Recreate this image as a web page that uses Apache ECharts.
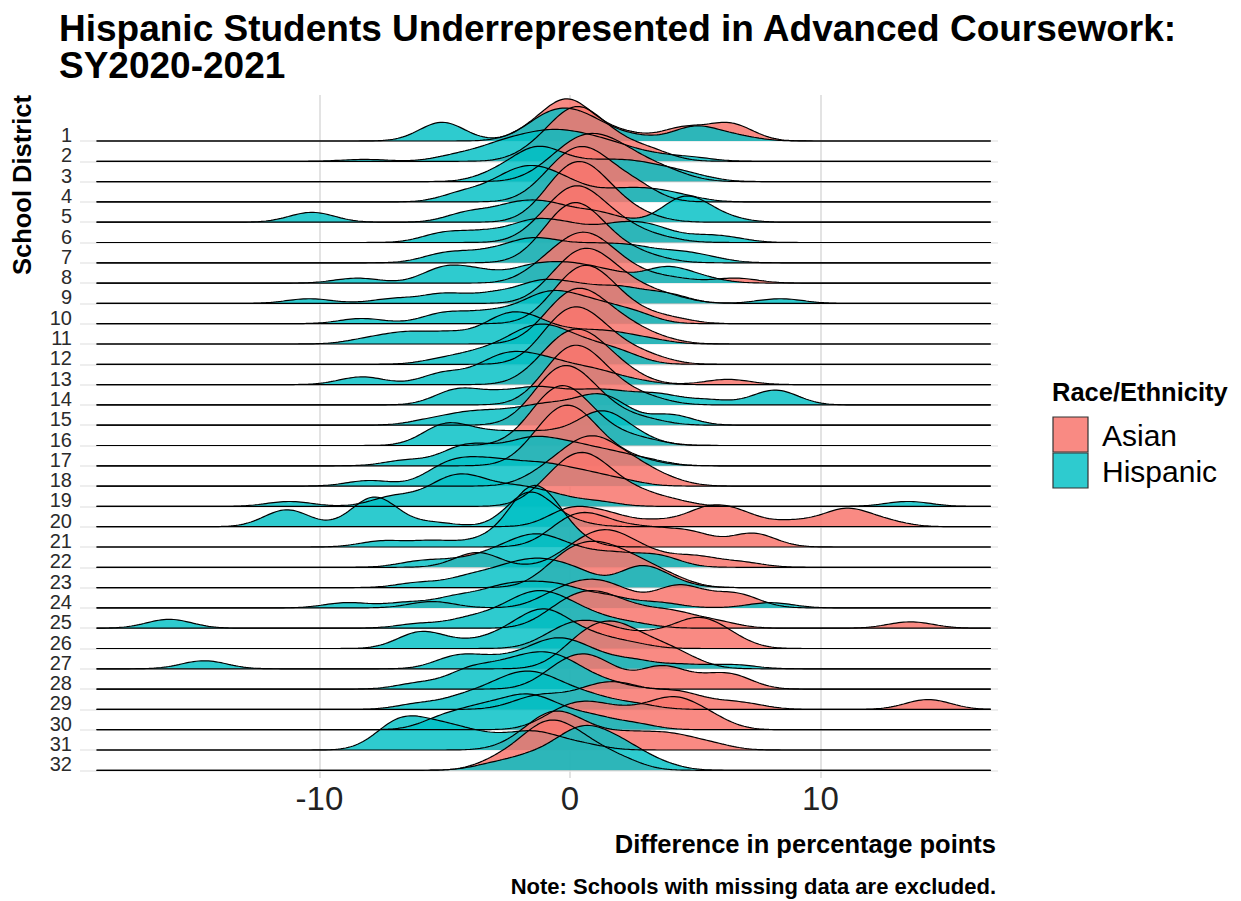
<!DOCTYPE html>
<html>
<head>
<meta charset="utf-8">
<script src="https://cdn.jsdelivr.net/npm/echarts@6/dist/echarts.min.js"></script>
<style>
  html, body { margin: 0; background: #fff; }
  #chart { width: 1241px; height: 901px; }
</style>
</head>
<body>
<div id="chart"></div>
<script>
const districts = ['1', '2', '3', '4', '5', '6', '7', '8', '9', '10', '11', '12', '13', '14', '15', '16',
  '17', '18', '19', '20', '21', '22', '23', '24', '25', '26', '27', '28', '29', '30', '31', '32'];
const groups = ['Asian', 'Hispanic'];
const xTicks = [-10, 0, 10];

// school-level differences: [difference, number of schools]
const asianSchools = [
  [[-0.4, 5], [0.3, 5], [2, 2], [4.5, 3], [6.4, 4], [-1.5, 2]],
  [[-1.3, 2], [-0.2, 5], [0.6, 6], [1.8, 3], [3.2, 2]],
  [[-0.8, 2], [0.2, 4], [1.0, 4], [2.0, 4], [3.2, 2], [4.2, 1]],
  [[-0.8, 3], [0.2, 6], [1.2, 5], [2.6, 3]],
  [[-0.8, 3], [0, 6], [0.8, 6], [1.8, 3], [3, 1]],
  [[-1, 3], [0, 6], [0.8, 5], [2, 3], [3.5, 1]],
  [[-0.9, 3], [0, 7], [0.9, 5], [2, 2], [3.2, 1]],
  [[-1, 3], [0.2, 6], [1.2, 5], [2.4, 2], [4, 1], [6.6, 1]],
  [[-0.5, 3], [0.5, 6], [1.5, 4], [2.7, 2], [4, 1]],
  [[-0.5, 3], [0.4, 6], [1.3, 5], [2.5, 2], [4, 1]],
  [[-0.8, 3], [0.1, 6], [1, 5], [2.2, 3], [3.5, 1]],
  [[-0.8, 3], [0, 6], [1, 5], [2.2, 2], [3.3, 1]],
  [[-1, 3], [0, 6], [1, 5], [2.2, 2], [6.3, 1]],
  [[-0.8, 3], [0, 6], [0.9, 5], [2, 2], [3.2, 1]],
  [[-1.2, 3], [-0.4, 6], [0.5, 5], [1.6, 2], [3, 1]],
  [[-1.4, 3], [-0.5, 7], [0.4, 5], [1.6, 2], [3, 1]],
  [[-1.3, 3], [-0.4, 7], [0.5, 6], [1.6, 2], [2.8, 1]],
  [[-1, 2], [0.2, 4], [1.2, 5], [2.5, 3], [3.8, 1]],
  [[-0.8, 3], [0.3, 6], [1.3, 4], [2.6, 2], [4, 1]],
  [[0, 3], [1.5, 2], [3.5, 1], [5.5, 3], [6.8, 2], [9, 1], [11, 3], [12.5, 1]],
  [[-0.3, 2], [0.6, 3], [1.8, 2], [3.2, 2], [4.8, 2], [7.3, 2]],
  [[-3.7, 3], [0, 2], [1, 4], [2, 4], [3.3, 2], [5, 2], [6.8, 1]],
  [[-0.5, 2], [0.5, 3], [1.6, 3], [2.8, 2], [4, 1]],
  [[-5.5, 1], [-0.5, 2], [0.8, 3], [2, 2], [4.2, 3], [5.3, 1], [6.7, 2]],
  [[-0.5, 2], [0.5, 3], [1.5, 3], [2.8, 2], [4.2, 2], [5.8, 1], [13.6, 1]],
  [[-0.5, 2], [0.6, 3], [1.8, 2], [3.4, 2], [5, 4], [6.2, 2]],
  [[0.2, 2], [1.2, 3], [2.2, 3], [3.5, 2], [4.6, 1]],
  [[-0.5, 2], [0.5, 3], [1.5, 2], [3.6, 3], [5, 1], [6.4, 2]],
  [[-1.8, 1], [-1.2, 1], [-0.8, 1], [0.5, 2], [1.5, 3], [2.2, 1], [2.8, 2], [4.3, 3], [5.8, 1], [7, 1], [14.3, 2]],
  [[-0.5, 2], [0.6, 3], [1.8, 2], [3, 2], [4.2, 4], [5.5, 2]],
  [[-2, 1], [-1, 3], [-0.2, 3], [1, 2], [2.5, 2], [4, 2], [5.5, 1]],
  [[-2.8, 1], [-1.5, 2], [-0.6, 3], [0.6, 2], [2, 1]]
];
const hispanicSchools = [
  [[-5.1, 4], [-1.2, 3], [-0.2, 4], [0.9, 3], [2.5, 1], [5, 3], [6.6, 1]],
  [[-8.2, 1], [-4.5, 3], [-3, 6], [-1.8, 8], [-0.6, 10], [0.6, 8], [1.8, 6], [3.2, 3], [4.8, 2]],
  [[-2.8, 2], [-1.4, 6], [-0.2, 3], [1.2, 3], [2.5, 3], [3.8, 2], [5, 1]],
  [[-4.2, 2], [-2.5, 4], [-1.3, 5], [0, 3], [1.8, 2], [3.2, 2], [4.5, 1]],
  [[-10.3, 2], [-4, 2], [-2.2, 3], [-0.8, 3], [1, 2], [4.6, 5], [6, 1]],
  [[-5, 2], [-3.3, 2], [-1.5, 4], [0, 3], [1.8, 3], [3.2, 3], [5, 1], [6.2, 1]],
  [[-5, 2], [-3.4, 2], [-1.8, 4], [-0.5, 3], [1, 3], [2.5, 3], [4.2, 2], [5.5, 1]],
  [[-8.5, 1], [-5, 3], [-3.5, 2], [-1.5, 3], [0, 3], [1.5, 2], [3.8, 3], [5.2, 1]],
  [[-10.4, 1], [-7, 1], [-5, 2], [-3, 2], [-1.2, 4], [0.3, 3], [2, 3], [3.8, 2], [8.4, 1]],
  [[-8.3, 1], [-5, 2], [-3.2, 2], [-1.5, 3], [-0.4, 4], [1, 3], [2.5, 2]],
  [[-8, 1], [-6.5, 2], [-4.8, 2], [-2.8, 4], [-1.6, 4], [0, 2], [1.5, 2], [3, 1]],
  [[-5, 1], [-3.5, 2], [-2, 4], [-0.8, 5], [0.6, 3], [2, 2]],
  [[-8.3, 2], [-5, 3], [-3, 5], [-1.8, 5], [-0.5, 4], [1, 3], [2.5, 1]],
  [[-4.5, 3], [-2.8, 2], [-1.2, 3], [0.5, 2], [1.8, 2], [3.5, 2], [5.5, 1], [8.2, 3]],
  [[-5.5, 1], [-4, 2], [-2.5, 2], [-1, 3], [0.5, 3], [1.6, 4], [4, 2]],
  [[-5, 4], [-3.5, 2], [-2, 2], [-0.5, 2], [1.2, 6], [2.5, 2]],
  [[-6.5, 1], [-4.3, 3], [-3, 2], [-1.5, 4], [0, 3], [1.5, 2], [3, 1]],
  [[-8, 1], [-5, 3], [-3.8, 3], [-2.5, 3], [-1, 3], [0.5, 2], [2, 1]],
  [[-11.2, 1], [-7, 2], [-5, 4], [-3.8, 4], [-2.2, 3], [-0.8, 2], [1, 1], [13.5, 1]],
  [[-11.3, 4], [-7.8, 7], [-5.5, 1], [-1.6, 8], [0, 1]],
  [[-7.5, 1], [-5.5, 1], [-3.5, 1], [-1.8, 5], [-1.2, 5], [-0.3, 2]],
  [[-6, 1], [-4.5, 1], [-3, 2], [-1.8, 3], [-0.9, 3], [0.3, 2], [1.8, 2], [3.5, 2]],
  [[-6, 1], [-4, 2], [-2.5, 3], [-1.2, 4], [0.2, 3], [2.8, 4], [4, 1]],
  [[-8.9, 1], [-6.5, 1], [-4.5, 2], [-2.8, 3], [-1.5, 3], [-0.2, 3], [1.5, 2], [3.5, 1], [8, 1]],
  [[-16, 2], [-6, 1], [-4, 2], [-2.5, 3], [-1.4, 5], [-0.3, 4], [1, 2], [2.5, 1]],
  [[-6, 3], [-4.5, 1], [-2.8, 2], [-1.5, 4], [-0.6, 4], [0.8, 2], [2.3, 1]],
  [[-14.6, 2], [-4.5, 3], [-3, 2], [-1.5, 3], [-0.4, 5], [0.8, 3], [2.5, 2], [4.5, 1], [6.5, 1]],
  [[-6, 1], [-4, 3], [-2.5, 3], [-1.2, 4], [0, 3], [1.5, 1]],
  [[-6, 1], [-4.2, 2], [-2.8, 3], [-1.7, 4], [-0.6, 3], [0.8, 2], [2.5, 1]],
  [[-5, 2], [-3.5, 3], [-2, 4], [-0.8, 3], [0.8, 2], [2.5, 1]],
  [[-7, 4], [-6, 3], [-4.8, 3], [-3.5, 2], [-2, 2], [-1, 2], [0.5, 1]],
  [[-3, 1], [-1.5, 2], [0, 4], [1, 4], [2.2, 3], [3.5, 1]]
];

const BANDWIDTH = 0.9;       // joint bandwidth for every ridge
const RIDGE_SCALE = 9.85;    // rows per unit of density
const X_FROM = -18.9;
const X_TO = 16.8;
const N_POINTS = 360;
const FILLS = ['rgba(248,118,109,0.85)', 'rgba(0,191,196,0.82)'];
const FONT = 'Liberation Sans, Arial, Helvetica, sans-serif';

const nRows = districts.length;
const baseOf = (i) => nRows - 1 - i;

function density(obs, x) {
  let s = 0;
  let n = 0;
  obs.forEach(([v, c]) => {
    const z = (x - v) / BANDWIDTH;
    s += c * Math.exp(-0.5 * z * z);
    n += c;
  });
  return s / (n * BANDWIDTH * Math.sqrt(2 * Math.PI));
}

function ridge(obs, base) {
  const pts = [];
  for (let k = 0; k < N_POINTS; k++) {
    const x = X_FROM + (X_TO - X_FROM) * k / (N_POINTS - 1);
    pts.push([x, base + RIDGE_SCALE * density(obs, x)]);
  }
  return pts;
}

const series = [{
  // panel grid lines, kept under the ridges
  type: 'line',
  data: [],
  z: 0,
  silent: true,
  markLine: {
    z: 0,
    silent: true,
    symbol: ['none', 'none'],
    label: { show: false },
    animation: false,
    data: xTicks.map((v) => ({ xAxis: v, lineStyle: { color: '#e3e3e3', width: 2, type: 'solid' } }))
      .concat(districts.map((d, i) => ({ yAxis: baseOf(i), lineStyle: { color: '#e8e8e8', width: 1.5, type: 'solid' } })))
  }
}];

districts.forEach((d, i) => {
  [asianSchools[i], hispanicSchools[i]].forEach((obs, g) => {
    series.push({
      type: 'line',
      name: groups[g],
      data: ridge(obs, baseOf(i)),
      showSymbol: false,
      symbol: 'none',
      silent: true,
      z: 3,
      lineStyle: { color: '#000', width: 1.2 },
      itemStyle: { color: FILLS[g] },
      areaStyle: { color: FILLS[g], opacity: 1, origin: baseOf(i) }
    });
  });
});

const chart = echarts.init(document.getElementById('chart'), null, { renderer: 'svg' });
chart.setOption({
  animation: false,
  backgroundColor: '#fff',
  title: {
    text: 'Hispanic Students Underrepresented in Advanced Coursework:\nSY2020-2021',
    left: 54,
    top: 5,
    textStyle: { fontFamily: FONT, fontSize: 37, fontWeight: 'bold', color: '#000', lineHeight: 37 }
  },
  grid: { left: 80, right: 243, top: 95, bottom: 123 },
  xAxis: {
    type: 'value',
    min: -19.56,
    max: 17.09,
    axisLine: { show: false },
    axisTick: { show: false },
    splitLine: { show: false },
    axisLabel: {
      customValues: xTicks,
      fontFamily: FONT,
      fontSize: 33,
      color: '#222',
      margin: 4
    }
  },
  yAxis: {
    type: 'value',
    min: -0.379,
    max: 33.266,
    axisLine: { show: false },
    axisTick: { show: false },
    splitLine: { show: false },
    axisLabel: {
      customValues: districts.map((d, i) => baseOf(i)),
      formatter: (v) => districts[nRows - 1 - Math.round(v)],
      fontFamily: FONT,
      fontSize: 20,
      color: '#2b2b2b',
      margin: 8,
      verticalAlign: 'bottom',
      lineHeight: 12
    }
  },
  graphic: [
    {
      type: 'text', x: 22, y: 185, rotation: Math.PI / 2,
      style: { text: 'School District', font: 'bold 25.5px ' + FONT, fill: '#000', align: 'center', verticalAlign: 'middle' }
    },
    {
      type: 'text', x: 996, y: 844,
      style: { text: 'Difference in percentage points', font: 'bold 25.5px ' + FONT, fill: '#000', align: 'right', verticalAlign: 'middle' }
    },
    {
      type: 'text', x: 996, y: 886,
      style: { text: 'Note: Schools with missing data are excluded.', font: 'bold 22px ' + FONT, fill: '#000', align: 'right', verticalAlign: 'middle' }
    },
    {
      type: 'text', x: 1052, y: 392,
      style: { text: 'Race/Ethnicity', font: 'bold 25.5px ' + FONT, fill: '#000', align: 'left', verticalAlign: 'middle' }
    },
    {
      type: 'rect', shape: { x: 1053, y: 417, width: 35, height: 35 },
      style: { fill: FILLS[0], stroke: '#333', lineWidth: 1.2 }
    },
    {
      type: 'rect', shape: { x: 1053, y: 453, width: 35, height: 35 },
      style: { fill: FILLS[1], stroke: '#333', lineWidth: 1.2 }
    },
    {
      type: 'text', x: 1102, y: 435,
      style: { text: groups[0], font: '30px ' + FONT, fill: '#000', align: 'left', verticalAlign: 'middle' }
    },
    {
      type: 'text', x: 1102, y: 471,
      style: { text: groups[1], font: '30px ' + FONT, fill: '#000', align: 'left', verticalAlign: 'middle' }
    }
  ],
  series
});
</script>
</body>
</html>
